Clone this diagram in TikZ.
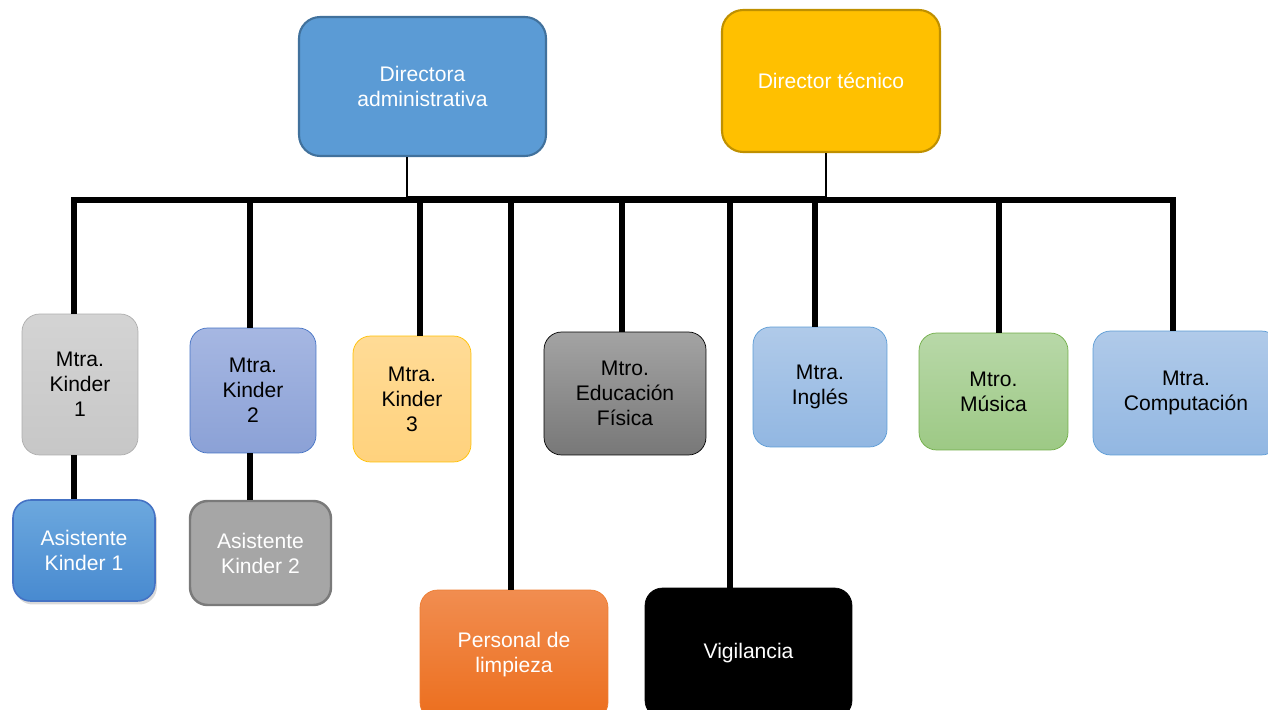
\documentclass[tikz,border=0pt]{standalone}
\usepackage{fontspec}
\setmainfont{Liberation Sans}
\usepackage{tikz}
\usetikzlibrary{shadows}
\definecolor{azul}{HTML}{5B9BD5}
\definecolor{azulb}{HTML}{41719C}
\definecolor{oro}{HTML}{FFC000}
\definecolor{orob}{HTML}{BF9000}

\begin{document}
\begin{tikzpicture}
  [x=0.02cm,y=-0.02cm,
   every node/.style={draw,rounded corners=10pt,align=center,inner sep=0pt,
                      font=\fontsize{12}{14.2}\selectfont},
   bus/.style={line width=3.4pt},
   link/.style={line width=1.6pt}]
  \useasboundingbox (0,0) rectangle (1268,710);
  \node[fill=azul,draw=azulb,line width=1.2pt,text=white,rounded corners=12pt,
        minimum width=4.94cm,minimum height=2.78cm] (dadm) at (422.5,86.5) {Directora\\administrativa};
  \node[fill=oro,draw=orob,line width=1.2pt,text=white,rounded corners=12pt,
        minimum width=4.36cm,minimum height=2.84cm] (dtec) at (831,81) {Director técnico};
  \node[top color=black!17,bottom color=black!22,draw=black!32,
        minimum width=2.32cm,minimum height=2.82cm] (k1) at (80,384.5) {Mtra.\\Kinder\\1};
  \node[top color={rgb,255:red,108;green,168;blue,222},bottom color={rgb,255:red,72;green,138;blue,208},
        draw={rgb,255:red,68;green,114;blue,196},line width=0.9pt,text=white,
        drop shadow={opacity=0.3,shadow xshift=0.04cm,shadow yshift=-0.07cm},
        minimum width=2.84cm,minimum height=2.02cm] (a1) at (84,550.5) {Asistente\\Kinder 1};
  \node[top color={rgb,255:red,166;green,183;blue,226},bottom color={rgb,255:red,139;green,161;blue,214},
        draw={rgb,255:red,68;green,114;blue,196},
        minimum width=2.52cm,minimum height=2.5cm] (k2) at (253,390.5) {Mtra.\\Kinder\\2};
  \node[fill=black!35,draw=black!52,line width=1.4pt,text=white,
        minimum width=2.82cm,minimum height=2.08cm] (a2) at (260.5,553) {Asistente\\Kinder 2};
  \node[top color={rgb,255:red,255;green,219;blue,150},bottom color={rgb,255:red,255;green,210;blue,125},
        draw=oro,minimum width=2.36cm,minimum height=2.52cm] (k3) at (412,399) {Mtra.\\Kinder\\3};
  \node[top color={rgb,255:red,241;green,141;blue,80},bottom color={rgb,255:red,236;green,110;blue,29},
        draw={rgb,255:red,237;green,125;blue,49},text=white,
        minimum width=3.76cm,minimum height=2.6cm] (pl) at (514,655) {Personal de\\limpieza};
  \node[top color=black!36,bottom color=black!53,draw=black,
        minimum width=3.24cm,minimum height=2.46cm] (ef) at (625,393.5) {Mtro.\\Educación\\Física};
  \node[fill=black,draw=black,text=white,
        minimum width=4.14cm,minimum height=2.6cm] (vg) at (748.5,653) {Vigilancia};
  \node[top color={rgb,255:red,176;green,202;blue,233},bottom color={rgb,255:red,146;green,183;blue,226},
        draw=azul,minimum width=2.68cm,minimum height=2.4cm] (ing) at (820,387) {Mtra.\\Inglés};
  \node[top color={rgb,255:red,184;green,216;blue,168},bottom color={rgb,255:red,157;green,201;blue,133},
        draw={rgb,255:red,112;green,173;blue,71},
        minimum width=2.98cm,minimum height=2.34cm] (mu) at (993.5,391.5) {Mtro.\\Música};
  \node[top color={rgb,255:red,176;green,202;blue,233},bottom color={rgb,255:red,146;green,183;blue,226},
        draw=azul,minimum width=3.72cm,minimum height=2.48cm] (co) at (1186,393) {Mtra.\\Computación};
  \coordinate (t1) at (407,197);
  \coordinate (t2) at (826,197);
  \coordinate (b1) at (74,200);
  \coordinate (b2) at (250,200);
  \coordinate (b3) at (420,200);
  \coordinate (b4) at (511,200);
  \coordinate (b5) at (622,200);
  \coordinate (b6) at (730,200);
  \coordinate (b7) at (815,200);
  \coordinate (b8) at (999,200);
  \coordinate (b9) at (1173,200);
  \draw[link] (dadm.south -| t1) -- (t1) -- (t2) -- (dtec.south -| t2);
  \draw[bus,line cap=rect] (b1) -- (b9);
  \foreach \bb/\nn in {b1/k1,b2/k2,b3/k3,b4/pl,b5/ef,b6/vg,b7/ing,b8/mu,b9/co}
    \draw[bus] (\bb) -- (\bb |- \nn.north);
  \draw[bus] (k1.south -| b1) -- (a1.north -| b1);
  \draw[bus] (k2.south -| b2) -- (a2.north -| b2);
\end{tikzpicture}
\end{document}
